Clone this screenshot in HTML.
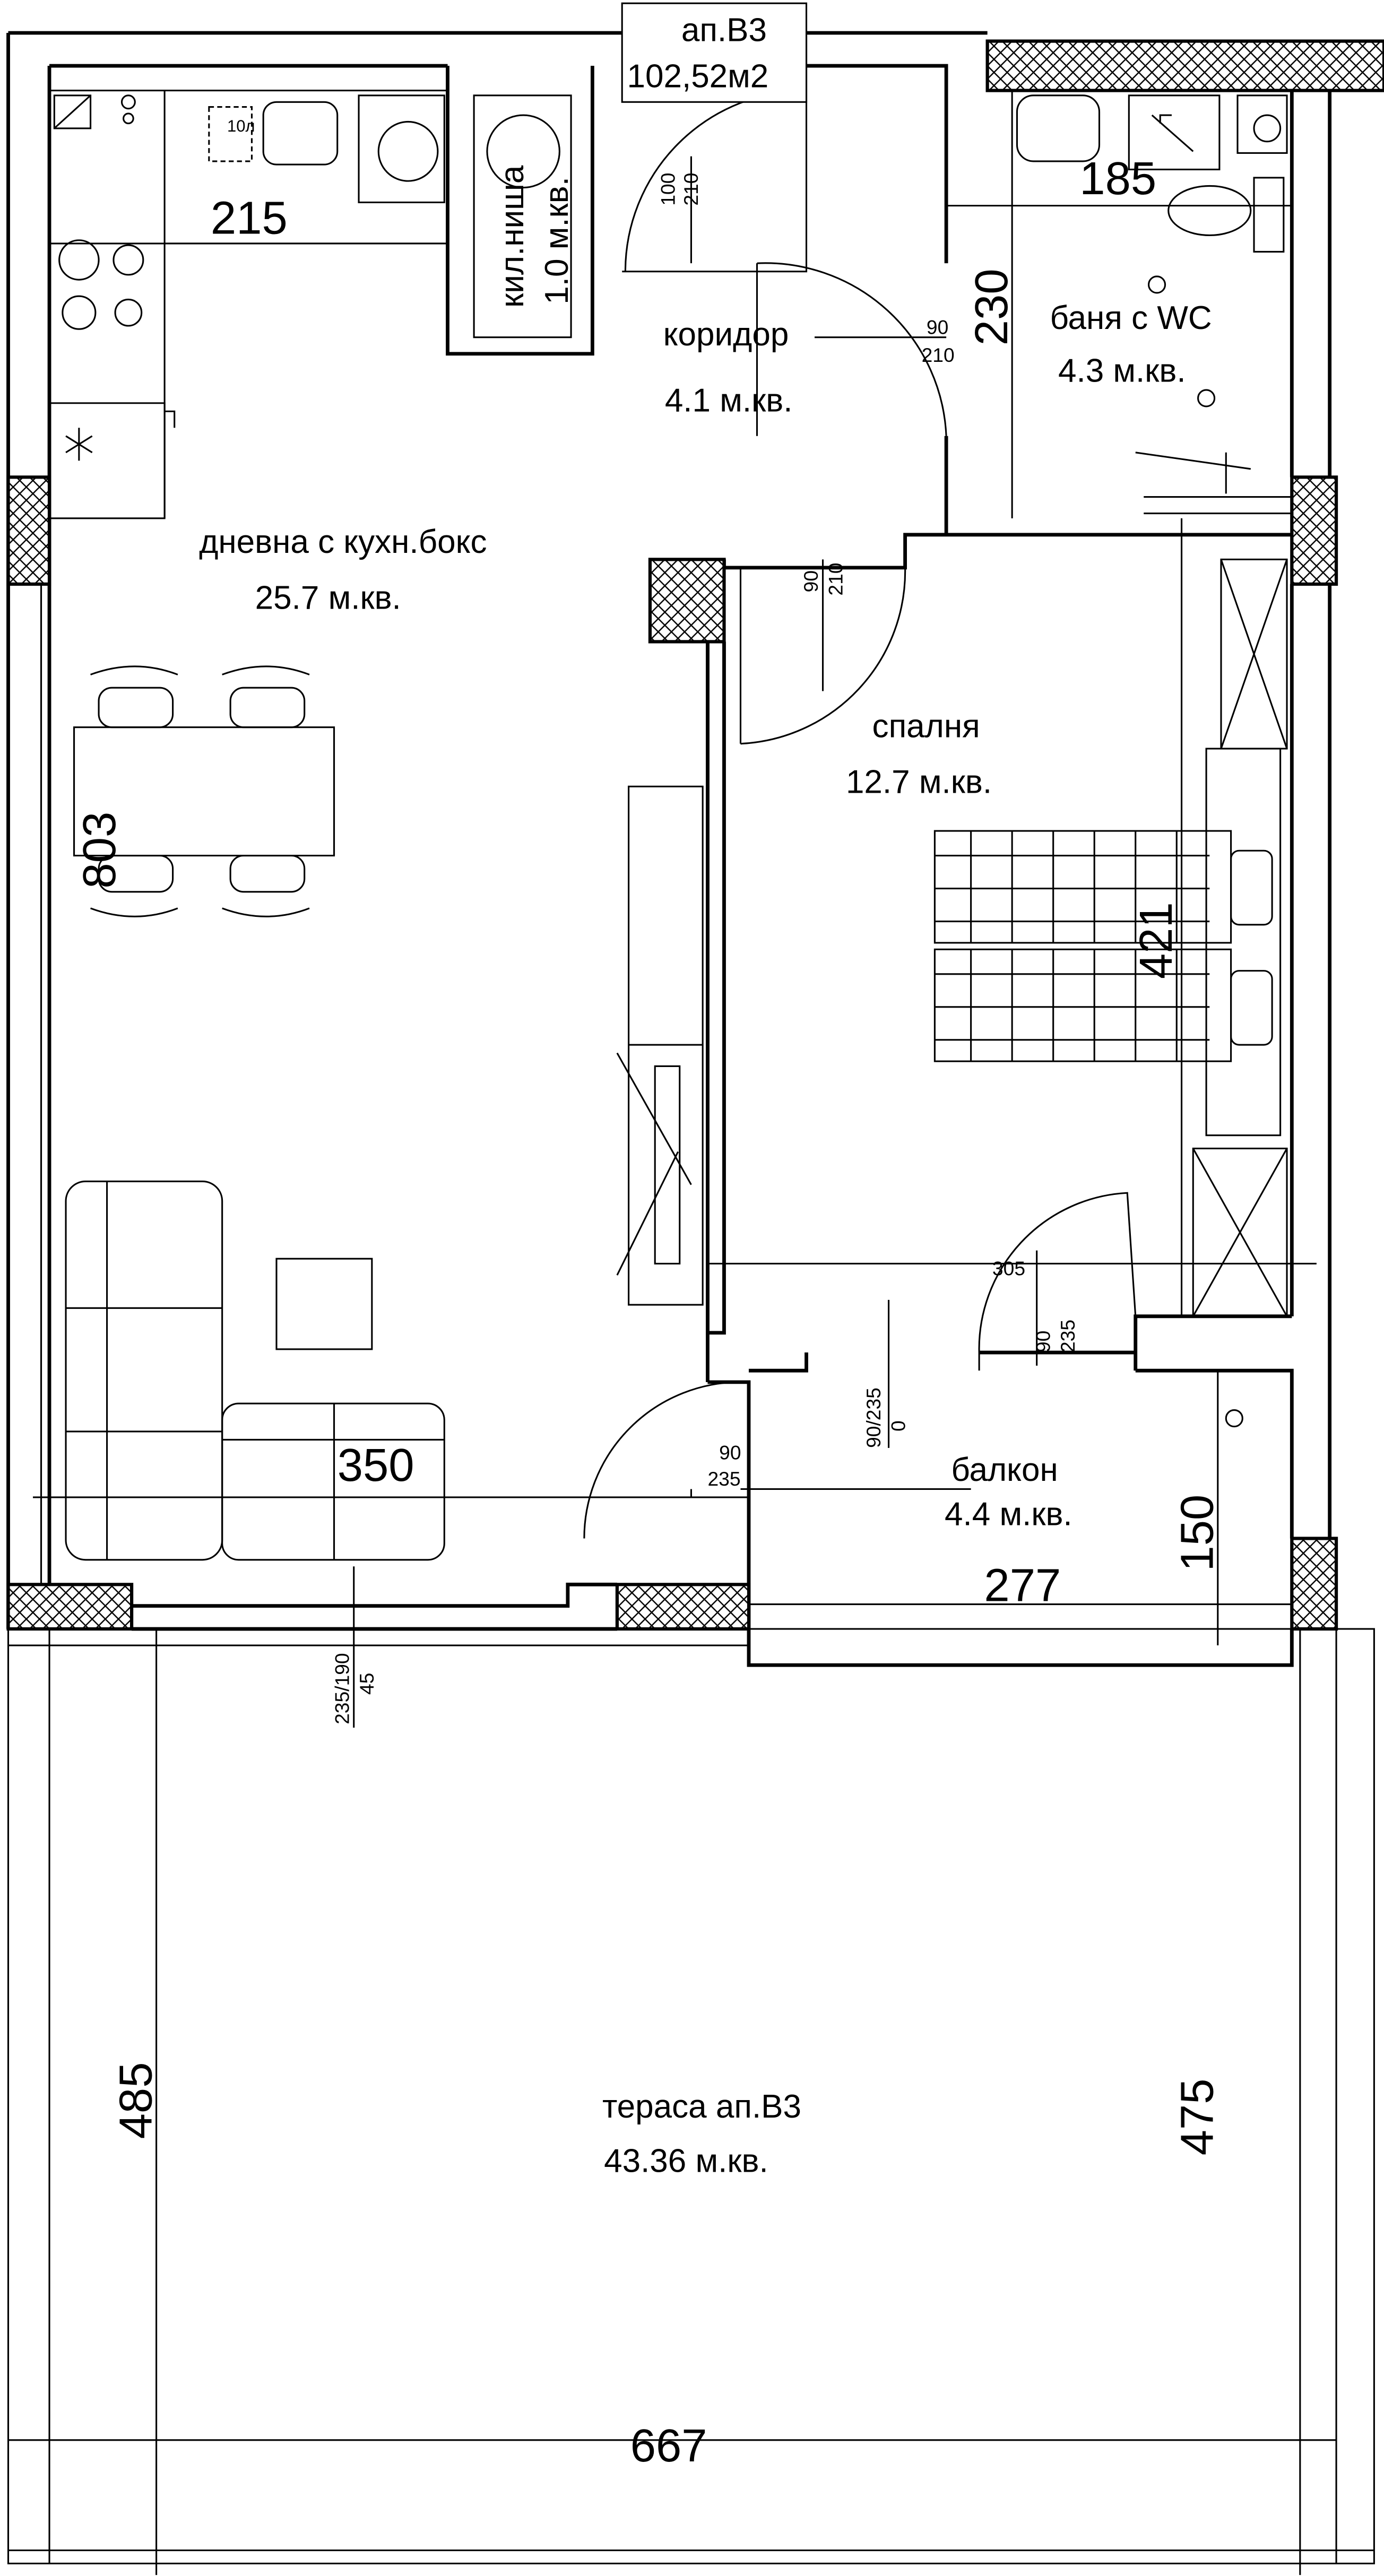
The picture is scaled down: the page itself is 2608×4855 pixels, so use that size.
<!DOCTYPE html>
<html><head><meta charset="utf-8">
<style>
html,body{margin:0;padding:0;background:#fff;}
svg{display:block;}
text{font-family:"Liberation Sans","DejaVu Sans",sans-serif;fill:#000;}
</style></head>
<body>
<svg width="2608" height="4855" viewBox="0 0 841 1565.6" xmlns="http://www.w3.org/2000/svg">
<defs>
<pattern id="h" width="8" height="8" patternUnits="userSpaceOnUse">
<rect width="8" height="8" fill="#fff"/>
<path d="M0 0L8 8M8 0L0 8" stroke="#000" stroke-width="0.8"/>
</pattern>
</defs>
<rect width="841" height="1566" fill="#fff"/>
<g fill="none" stroke="#000" stroke-width="2.2">
<!-- outer walls -->
<path d="M5 20H378M5 20V990M30 40V963M30 40H272"/>
<path d="M272 40V215H360V40"/>
<path d="M490 20H600M490 40H575V125M575 160V40"/>
<path d="M808 55V290M785 55V290M785 355V800M808 355V935M808 990V940"/>
<!-- corridor/bath partition -->
<path d="M575 265V325H550V345H440V340M575 325H785M440 390V810H430V390"/>
<path d="M430 840H455V1012H785V990"/>
<path d="M430 390V840"/>
<path d="M690 810V800H785M690 833V810M690 833H785V935"/>
<path d="M455 833H490V822M595 822H690"/>
<path d="M80 990H375M80 976H345V963H375"/>
</g>
<g fill="none" stroke="#000" stroke-width="1">
<!-- terrace -->
<rect x="5" y="990" width="830" height="568"/>
<path d="M30 990V1558M812 990V1558M5 1550H835M95 990V1565M790 990V1565"/>
<path d="M5 1483H812M5 1000H455"/>
<path d="M215 952V1050"/>
<!-- kitchen -->
<path d="M30 55H100V315H30M100 55H272M100 148H272"/>
<rect x="33" y="58" width="22" height="20"/><path d="M33 78L55 58"/>
<circle cx="78" cy="62" r="4"/><circle cx="78" cy="72" r="3"/>
<rect x="127" y="65" width="26" height="33" stroke-dasharray="3 2"/>
<rect x="160" y="62" width="45" height="38" rx="8"/>
<rect x="218" y="58" width="52" height="65"/><circle cx="248" cy="92" r="18"/>
<circle cx="48" cy="158" r="12"/><circle cx="78" cy="158" r="9"/>
<circle cx="48" cy="190" r="10"/><circle cx="78" cy="190" r="8"/>
<path d="M30 245H100V315M100 250H106V260"/>
<path d="M40 265L56 275M48 260V280M40 275L56 265"/>
<path d="M288 58H347V205H288Z"/><circle cx="318" cy="92" r="22"/>
<!-- dining table -->
<rect x="45" y="442" width="158" height="78"/>
<rect x="60" y="418" width="45" height="24" rx="8"/><rect x="140" y="418" width="45" height="24" rx="8"/>
<rect x="60" y="520" width="45" height="22" rx="8"/><rect x="140" y="520" width="45" height="22" rx="8"/>
<path d="M55 410Q82 400 108 410M135 410Q162 400 188 410M55 552Q82 562 108 552M135 552Q162 562 188 552"/>
<!-- TV unit -->
<rect x="382" y="478" width="45" height="315"/><path d="M382 635H427"/>
<rect x="398" y="648" width="15" height="120"/><path d="M375 640L420 720M375 775L412 700"/>
<!-- sofa -->
<rect x="40" y="718" width="95" height="230" rx="12"/>
<path d="M65 718V948M40 795H135M40 870H135"/>
<rect x="135" y="853" width="135" height="95" rx="10"/><path d="M203 853V948M135 875H270"/>
<rect x="168" y="765" width="58" height="55"/>
<!-- bathroom fixtures -->
<rect x="618" y="58" width="50" height="40" rx="10"/>
<rect x="686" y="58" width="55" height="45"/><path d="M700 70L725 92M705 75V70H712"/>
<rect x="752" y="58" width="30" height="35"/><circle cx="770" cy="78" r="8"/>
<ellipse cx="735" cy="128" rx="25" ry="15"/><rect x="762" y="108" width="18" height="45"/>
<path d="M690 275L760 285M695 302H785M695 312H785"/>
<path d="M745 300V275"/>
<circle cx="703" cy="173" r="5"/><circle cx="733" cy="242" r="5"/><circle cx="750" cy="862" r="5"/>
<!-- bedroom wardrobe -->
<rect x="742" y="340" width="40" height="115"/><path d="M742 340L782 455M782 340L742 455"/>
<rect x="733" y="455" width="45" height="235"/>
<rect x="725" y="698" width="57" height="102"/><path d="M725 698L782 800M782 698L725 800"/>
<!-- beds -->
<rect x="568" y="505" width="180" height="68"/><rect x="568" y="577" width="180" height="68"/>
<path d="M568 520H735M568 540H735M568 560H735M568 592H735M568 612H735M568 632H735"/>
<path d="M590 505V573M615 505V573M640 505V573M665 505V573M690 505V573M715 505V573M590 577V645M615 577V645M640 577V645M665 577V645M690 577V645M715 577V645"/>
<rect x="748" y="517" width="25" height="45" rx="5"/><rect x="748" y="590" width="25" height="45" rx="5"/>
<!-- doors -->
<path d="M378 165H490V22"/><path d="M380 165A110 110 0 0 1 490 55" />
<path d="M575 265A110 110 0 0 0 460 160"/><path d="M460 160V265"/>
<path d="M450 452A105 105 0 0 0 550 345M450 345V452"/>
<path d="M595 822A95 95 0 0 1 685 725L690 800"/>
<path d="M355 935A95 95 0 0 1 450 840"/>
<path d="M490 822V833M595 822V833"/>
<!-- dimension lines -->
<path d="M30 148H272"/>
<path d="M575 125H785"/>
<path d="M615 55V315"/>
<path d="M430 768H800"/>
<path d="M25 345V975"/>
<path d="M718 315V800"/>
<path d="M20 910H455"/>
<path d="M455 975H790"/>
<path d="M740 833V1000"/>
<path d="M495 205H575M500 340V420M540 790V880M590 905H450M420 95V160M630 760V830M420 905V910"/>
</g>
<!-- hatched columns -->
<g stroke="#000" stroke-width="2" fill="url(#h)">
<rect x="5" y="290" width="25" height="65"/>
<rect x="395" y="340" width="45" height="50"/>
<rect x="785" y="290" width="27" height="65"/>
<rect x="785" y="935" width="27" height="55"/>
<rect x="5" y="963" width="75" height="27"/>
<rect x="375" y="963" width="80" height="27"/>
<rect x="600" y="25" width="241" height="30"/>
</g>
<rect x="378" y="2" width="112" height="60" fill="#fff" stroke="#000" stroke-width="1"/>
<g font-size="20">
<text x="414" y="25">ап.В3</text>
<text x="381" y="53">102,52м2</text>
<text x="121" y="336">дневна с кухн.бокс</text>
<text x="155" y="370">25.7 м.кв.</text>
<text x="403" y="210">коридор</text>
<text x="404" y="250">4.1 м.кв.</text>
<text x="638" y="200">баня с WC</text>
<text x="643" y="232">4.3 м.кв.</text>
<text x="530" y="448">спалня</text>
<text x="514" y="482">12.7 м.кв.</text>
<text x="578" y="900">балкон</text>
<text x="574" y="927">4.4 м.кв.</text>
<text x="366" y="1287">тераса ап.В3</text>
<text x="367" y="1320">43.36 м.кв.</text>
<text transform="translate(318 187) rotate(-90)">кил.ниша</text>
<text transform="translate(345 185) rotate(-90)">1.0 м.кв.</text>
</g>
<g font-size="28">
<text x="128" y="142">215</text>
<text x="656" y="118">185</text>
<text x="205" y="900">350</text>
<text x="598" y="973">277</text>
<text x="383" y="1496">667</text>
<text transform="translate(612 210) rotate(-90)">230</text>
<text transform="translate(70 540) rotate(-90)">803</text>
<text transform="translate(712 595) rotate(-90)">421</text>
<text transform="translate(737 955) rotate(-90)">150</text>
<text transform="translate(92 1300) rotate(-90)">485</text>
<text transform="translate(737 1310) rotate(-90)">475</text>
</g>
<g font-size="12">
<text transform="translate(410 125) rotate(-90)">100</text>
<text transform="translate(424 125) rotate(-90)">210</text>
<text x="563" y="203">90</text><text x="560" y="220">210</text>
<text transform="translate(497 360) rotate(-90)">90</text>
<text transform="translate(512 362) rotate(-90)">210</text>
<text x="603" y="775">305</text>
<text transform="translate(638 822) rotate(-90)">90</text>
<text transform="translate(653 822) rotate(-90)">235</text>
<text transform="translate(535 880) rotate(-90)">90/235</text>
<text transform="translate(550 870) rotate(-90)">0</text>
<text x="437" y="887">90</text><text x="430" y="903">235</text>
<text transform="translate(212 1048) rotate(-90)">235/190</text>
<text transform="translate(227 1030) rotate(-90)">45</text>
<text x="138" y="80" font-size="10">10л</text>
</g>
</svg>
</body></html>
